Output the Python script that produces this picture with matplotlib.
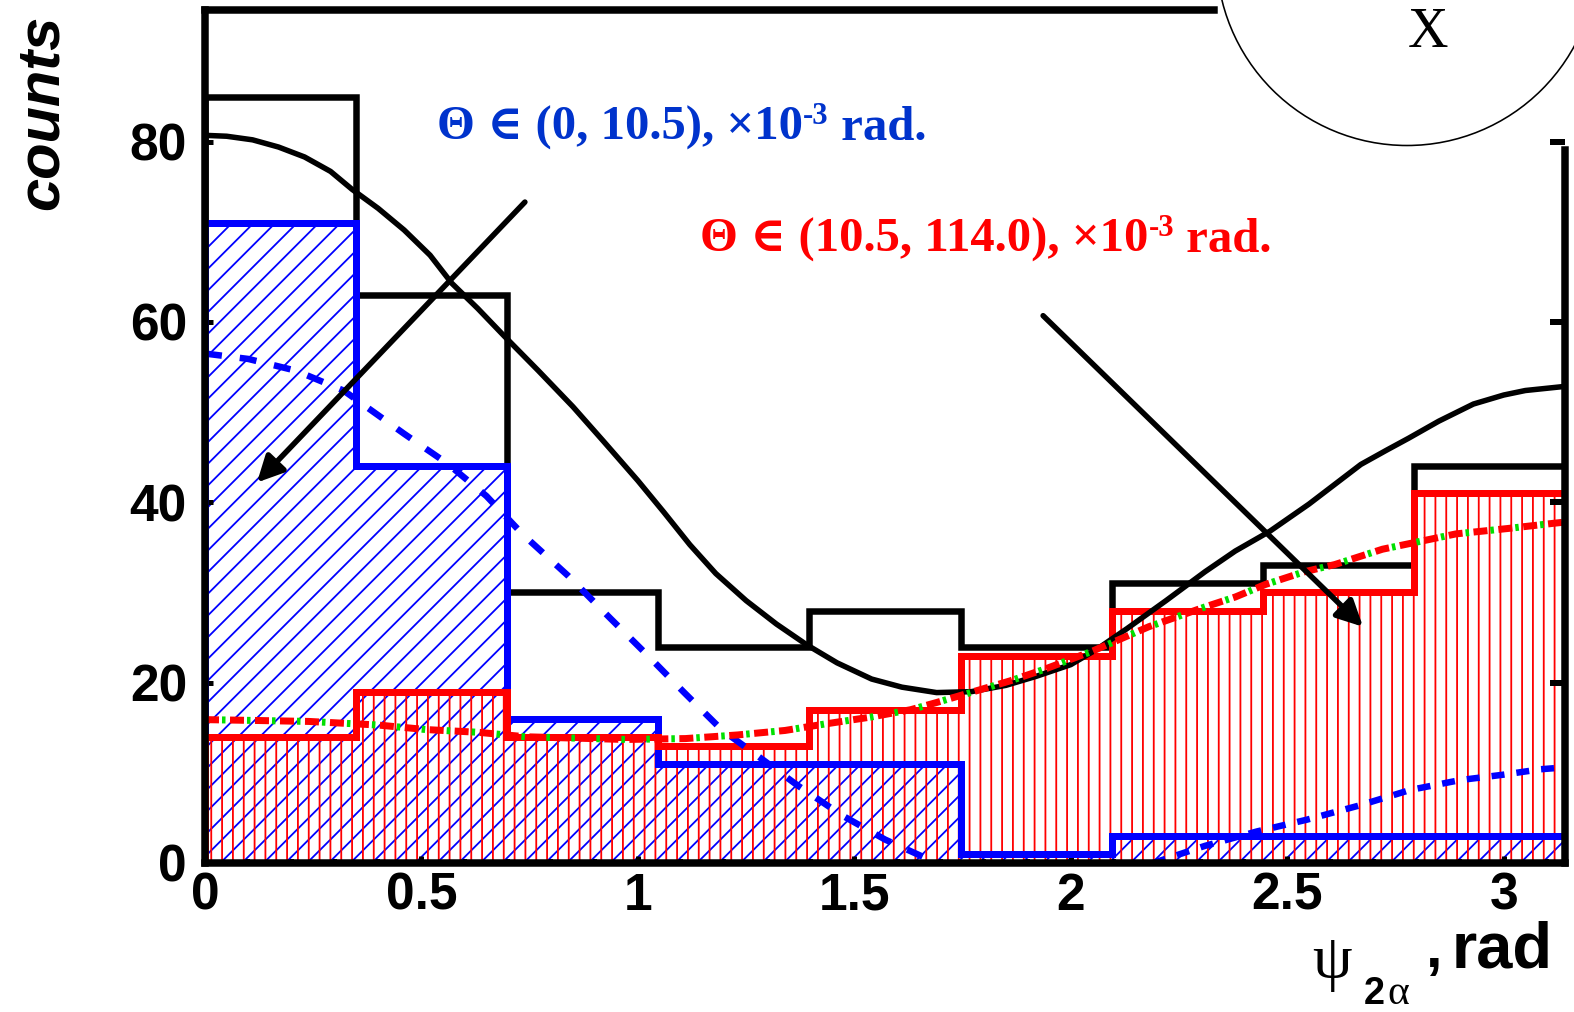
import numpy as np
import matplotlib.pyplot as plt
from matplotlib.patches import Ellipse
from matplotlib.ticker import MultipleLocator

plt.rcParams["font.family"] = ["Liberation Sans", "DejaVu Sans"]
plt.rcParams["font.weight"] = "bold"
plt.rcParams["hatch.linewidth"] = 1.0

DPI = 130
W, H = 1574, 1012
SERIF = ["Liberation Serif", "DejaVu Serif"]

# nine equal bins over [0, pi]
edges = np.linspace(0, np.pi, 10)
counts_all = [85, 63, 30, 24, 28, 24, 31, 33, 44]
counts_small = [71, 44, 16, 11, 11, 1, 3, 3, 3]
counts_large = [14, 19, 14, 13, 17, 23, 28, 30, 41]

# fitted curves, sampled by eye
fit_all_x = [0.0, 0.05, 0.11, 0.17, 0.23, 0.29, 0.34, 0.40, 0.46, 0.52, 0.57,
             0.63, 0.69, 0.77, 0.85, 0.92, 1.0, 1.06, 1.12, 1.18, 1.25, 1.32,
             1.39, 1.46, 1.54, 1.61, 1.69, 1.77, 1.85, 1.92, 2.0, 2.06, 2.13,
             2.22, 2.31, 2.38, 2.46, 2.55, 2.61, 2.67, 2.73, 2.78, 2.85, 2.93,
             3.0, 3.05, 3.13]
fit_all_y = [80.7, 80.6, 80.2, 79.4, 78.3, 76.7, 74.7, 72.6, 70.2, 67.4, 64.3,
             61.5, 58.5, 54.6, 50.6, 46.8, 42.4, 38.9, 35.3, 32.1, 29.1, 26.5,
             24.2, 22.2, 20.4, 19.5, 18.9, 19.0, 19.7, 20.7, 22.0, 23.7, 26.0,
             29.1, 32.3, 34.6, 36.8, 39.8, 42.0, 44.2, 45.8, 47.1, 49.0, 50.9,
             51.9, 52.4, 52.8]

fit_small_x1 = [0.0, 0.10, 0.21, 0.32, 0.46, 0.56, 0.65, 0.735, 0.84, 0.937,
                1.021, 1.107, 1.193, 1.276, 1.369, 1.471, 1.571, 1.69]
fit_small_y1 = [56.5, 55.9, 54.6, 52.4, 47.6, 44.3, 40.7, 36.4, 31.8, 27.1,
                23.1, 18.9, 14.8, 11.9, 8.6, 5.3, 2.6, 0.0]
fit_small_x2 = [2.19, 2.31, 2.43, 2.545, 2.668, 2.784, 2.90, 3.0, 3.086, 3.14]
fit_small_y2 = [0.0, 1.9, 3.5, 4.8, 6.4, 8.1, 9.2, 9.8, 10.4, 10.6]

fit_large_x = [0.0, 0.125, 0.24, 0.32, 0.40, 0.51, 0.63, 0.74, 0.97, 1.11,
               1.23, 1.34, 1.43, 1.54, 1.63, 1.69, 1.86, 1.94, 2.05, 2.18,
               2.31, 2.38, 2.45, 2.54, 2.61, 2.72, 2.82, 2.89, 3.01, 3.12, 3.14]
fit_large_y = [15.9, 15.8, 15.7, 15.5, 15.3, 14.8, 14.5, 14.0, 13.7, 13.8,
               14.2, 14.7, 15.4, 16.2, 17.0, 17.8, 20.2, 21.5, 23.5, 26.2,
               28.4, 29.5, 30.9, 32.3, 33.1, 34.8, 35.8, 36.5, 37.1, 37.7, 37.8]

BLUE = "#0000ff"
RED = "#ff0000"
GREEN = "#00e000"


def px(p):
    """pixels -> points at the output dpi"""
    return p * 72.0 / DPI


def fx(x):
    return x / W


def fy(y):
    return 1 - y / H


fig = plt.figure(figsize=(W / DPI, H / DPI), dpi=DPI)
ax = fig.add_axes([fx(205), fy(863), 1360 / W, 853 / H])
ax.set_xlim(0, np.pi)
ax.set_ylim(0, 94.6)

widths = np.diff(edges)
# hatched fills
ax.bar(edges[:-1], counts_small, width=widths, align="edge", facecolor="none",
       edgecolor=BLUE, linewidth=0, hatch="//", zorder=1)
ax.bar(edges[:-1], counts_large, width=widths, align="edge", facecolor="none",
       edgecolor=RED, linewidth=0, hatch="||", zorder=1.1)

# outlines
ax.stairs(counts_all, edges, color="k", linewidth=px(6.5), zorder=2)
ax.stairs(counts_small, edges, color=BLUE, linewidth=px(7), zorder=2.1)
ax.stairs(counts_large, edges, color=RED, linewidth=px(7), zorder=2.2)

# fits
ax.plot(fit_all_x, fit_all_y, color="k", linewidth=px(5.5), zorder=3,
        solid_joinstyle="round")
lw_b = px(6.5)
ax.plot(fit_small_x1, fit_small_y1, color=BLUE, linewidth=lw_b, zorder=3.1,
        linestyle=(0, (px(17) / lw_b, px(18) / lw_b)))
ax.plot(fit_small_x2, fit_small_y2, color=BLUE, linewidth=lw_b, zorder=3.1,
        linestyle=(0, (px(13) / lw_b, px(12) / lw_b)))
lw_r = px(7)
ax.plot(fit_large_x, fit_large_y, color=RED, linewidth=lw_r, zorder=3.2,
        linestyle=(0, (px(14) / lw_r, px(11) / lw_r)))
ax.plot(fit_large_x, fit_large_y, color=GREEN, linewidth=lw_r, zorder=3.3,
        linestyle=(-px(17) / lw_r, (px(3.5) / lw_r, px(21.5) / lw_r)))

# frame
for side in ["left", "right", "top", "bottom"]:
    ax.spines[side].set_linewidth(px(7.5))
    ax.spines[side].set_zorder(5)
ax.spines["top"].set_bounds(0, 2.33)
ax.spines["right"].set_bounds(0, 79.1)

ax.set_xticks([0, 0.5, 1, 1.5, 2, 2.5, 3])
ax.set_xticklabels(["0", "0.5", "1", "1.5", "2", "2.5", "3"])
ax.set_yticks([0, 20, 40, 60, 80])
ax.xaxis.set_minor_locator(MultipleLocator(0.1))
ax.tick_params(axis="both", which="major", direction="in", width=px(5),
               labelsize=28.5, top=False, right=False)
ax.tick_params(axis="x", which="major", length=px(7), pad=px(9))
ax.tick_params(axis="x", which="minor", direction="in", length=px(4),
               width=px(4), top=False)
ax.tick_params(axis="y", which="major", length=px(8), pad=px(18))

# inward ticks on the right edge
ax2 = ax.twinx()
ax2.set_ylim(ax.get_ylim())
ax2.set_yticks([20, 40, 60, 80])
ax2.tick_params(direction="in", length=px(15), width=px(6), labelright=False)
for s in ax2.spines.values():
    s.set_visible(False)

# axis titles
fig.text(fx(42), fy(112), "counts", rotation=90, ha="center", va="center",
         fontsize=33, style="italic", weight="bold")
fig.text(fx(1312), fy(978), "ψ", family=SERIF, weight="normal", fontsize=35,
         va="baseline", ha="left")
fig.text(fx(1364), fy(1004), "2", fontsize=21, va="baseline", ha="left")
fig.text(fx(1387), fy(1004), "α", family=SERIF, weight="normal", fontsize=23,
         va="baseline", ha="left")
fig.text(fx(1426), fy(967), ",", fontsize=33, va="baseline", ha="left")
fig.text(fx(1452), fy(967), "rad", fontsize=36, va="baseline", ha="left")

# selection labels


def label(x, y, text, color):
    t1 = fig.text(fx(x), fy(y), text, color=color, family=SERIF,
                  weight="bold", fontsize=27, va="bottom", ha="left")
    t2 = ax.annotate("-3", xy=(1, 0.42), xycoords=t1, color=color,
                     family=SERIF, weight="bold", fontsize=17,
                     va="bottom", ha="left", annotation_clip=False)
    ax.annotate(" rad.", xy=(1, 0), xycoords=(t2, t1), color=color,
                family=SERIF, weight="bold", fontsize=27,
                va="bottom", ha="left", annotation_clip=False)


label(437, 150, "Θ ∈ (0, 10.5), ×10", "#0033cc")
label(700, 262, "Θ ∈ (10.5, 114.0), ×10", RED)

arrow = dict(arrowstyle="-|>", color="k", lw=px(5.5), mutation_scale=30,
             shrinkA=0, shrinkB=0)
ax.annotate("", xy=(0.120, 42.2), xytext=(0.739, 73.3), arrowprops=arrow,
            zorder=6)
ax.annotate("", xy=(2.675, 26.2), xytext=(1.936, 60.7), arrowprops=arrow,
            zorder=6)

# circular inset outline at the top right
fig.patches.append(Ellipse((fx(1407), fy(-45)), 2 * 190.5 / W, 2 * 190.5 / H,
                           transform=fig.transFigure, fill=False,
                           edgecolor="k", linewidth=px(1.6)))
fig.text(fx(1428), fy(33), "X", family=SERIF, weight="normal", fontsize=31,
         ha="center", va="center")

fig.savefig("out.png", dpi=DPI)
